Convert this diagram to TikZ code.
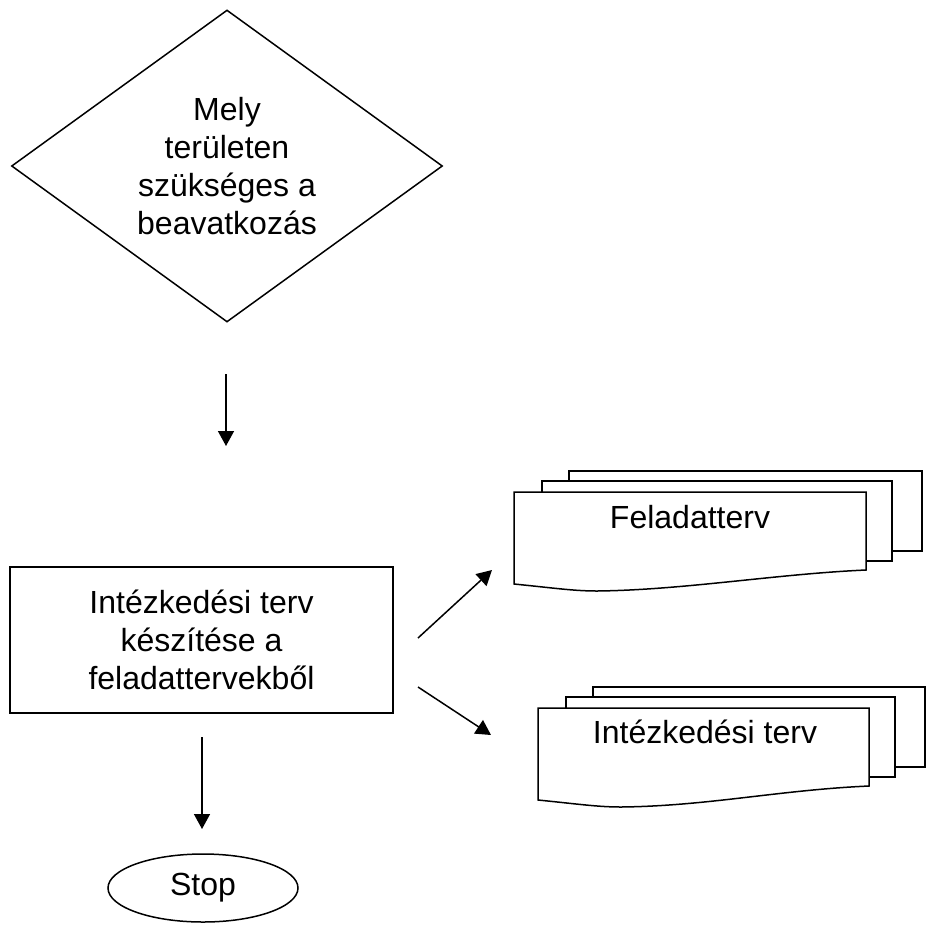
\documentclass[tikz,border=0pt]{standalone}
\usepackage{fontspec}
\setmainfont{Liberation Sans}
\usetikzlibrary{arrows.meta}
\usetikzlibrary{shapes.geometric}

\tikzset{
 flow/.style={draw, line width=1.5pt, align=center, inner sep=0pt, font=\fontsize{32}{38}\selectfont},
 sheet/.style={draw, line width=1.5pt, fill=white},
 arr/.style={line width=1.5pt, -{Triangle[length=15pt,width=16pt]}},
}

% three stacked sheets, front sheet at (#1,#2), width #3
\newcommand{\docstack}[3]{
 \draw[sheet] ({#1+55},{#2-21}) rectangle ({#1+#3+56},{#2+59});
 \draw[sheet] ({#1+28},{#2-11}) rectangle ({#1+#3+26},{#2+69});
 \draw[sheet] (#1,#2) -- (#1,{#2+92}) .. controls ({#1+40},{#2+96}) and ({#1+60},{#2+99}) .. ({#1+83},{#2+99})
   .. controls ({#1+170},{#2+98}) and ({#1+#3-90},{#2+82}) .. ({#1+#3},{#2+78}) -- ({#1+#3},#2) -- cycle;
}

\begin{document}
\begin{tikzpicture}[x=1pt, y=-1pt]
\useasboundingbox (0,0) rectangle (933,924);

\node[flow, diamond, aspect=1.38, minimum width=431pt, minimum height=312pt] (area) at (227,166)
 {Mely\\területen\\szükséges a\\beavatkozás};
\node[flow, rectangle, minimum width=383pt, minimum height=146pt] (plan) at (201.5,640)
 {Intézkedési terv\\készítése a\\feladattervekből};
\node[flow, ellipse, minimum width=190pt, minimum height=68pt] (stop) at (203,888) {Stop};

\docstack{514}{492}{352}
\docstack{538}{708}{331}
\node[flow, draw=none] (task) at (690,517) {Feladatterv};
\node[flow, draw=none] (action) at (705,732) {Intézkedési terv};

\coordinate (a1) at (226,374);  \coordinate (b1) at (226,446);
\coordinate (a2) at (202,737);  \coordinate (b2) at (202,829);
\coordinate (a3) at (418,638);  \coordinate (b3) at (492,570);
\coordinate (a4) at (418,687);  \coordinate (b4) at (491,735);

\draw[arr] (a1) -- (b1);
\draw[arr] (a2) -- (b2);
\draw[arr] (a3) -- (b3);
\draw[arr] (a4) -- (b4);

\end{tikzpicture}
\end{document}
